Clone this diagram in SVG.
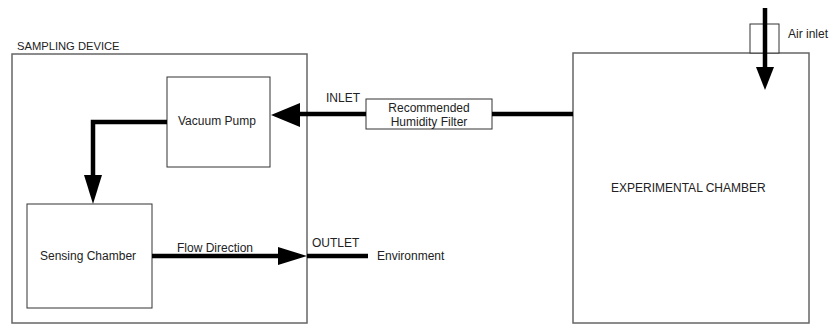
<svg xmlns="http://www.w3.org/2000/svg" width="831" height="325" viewBox="0 0 831 325">
<style>
text{font-family:"Liberation Sans",Arial,sans-serif;font-size:12px;fill:#222}
.outer{fill:none;stroke:#666;stroke-width:1.5}
.inner{fill:#fff;stroke:#333;stroke-width:1}
.flow{fill:none;stroke:#000;stroke-width:4.5}
.head{fill:#000}
</style>
<rect width="831" height="325" fill="#fff"/>
<g id="sampling-device">
<rect class="outer" x="12" y="54" width="295" height="269"/>
<text x="17" y="50" style="font-size:11.2px">SAMPLING DEVICE</text>
</g>
<g id="experimental-chamber">
<rect class="outer" x="573" y="53" width="236" height="270"/>
<text x="611" y="192">EXPERIMENTAL CHAMBER</text>
</g>
<g id="air-inlet">
<rect class="inner" x="750" y="24" width="29" height="29" fill="none"/>
<text x="788" y="38">Air inlet</text>
</g>
<g id="vacuum-pump">
<rect class="inner" x="167" y="77" width="103" height="90"/>
<text x="178" y="125">Vacuum Pump</text>
</g>
<g id="sensing-chamber">
<rect class="inner" x="27" y="204" width="125" height="104"/>
<text x="40" y="260">Sensing Chamber</text>
</g>
<g id="humidity-filter">
<rect class="inner" x="366" y="99" width="126" height="30"/>
<text x="429" y="112" text-anchor="middle">Recommended</text>
<text x="429" y="126" text-anchor="middle">Humidity Filter</text>
</g>
<g id="connectors">
<line class="flow" x1="765" y1="8" x2="765" y2="70"/>
<polygon class="head" points="756,67 774,67 765,90"/>
<line class="flow" x1="573" y1="114" x2="492" y2="114"/>
<line class="flow" x1="366" y1="114" x2="295" y2="114"/>
<polygon class="head" points="300,103 300,127 271,115"/>
<polyline class="flow" points="167,122 93,122 93,178"/>
<polygon class="head" points="84,175 102,175 93,204"/>
<line class="flow" x1="152" y1="256" x2="282" y2="256"/>
<polygon class="head" points="278,247 278,265 307,256"/>
<line class="flow" x1="307" y1="256" x2="368" y2="256"/>
<text x="326" y="102">INLET</text>
<text x="177" y="252">Flow Direction</text>
<text x="312" y="247">OUTLET</text>
<text x="377" y="260">Environment</text>
</g>
</svg>
